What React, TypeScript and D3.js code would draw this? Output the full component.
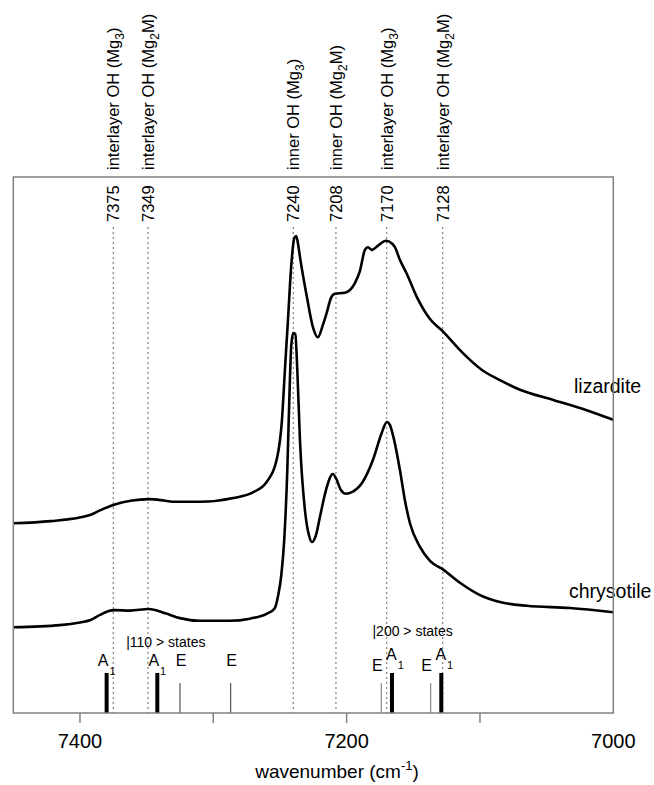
import React from 'react';
import * as d3 from 'd3';

// Spectra: [wavenumber (cm-1), intensity (arb. units)]
const lizardite: [number, number][] = [
  [7450, 35.4], [7422, 35.8], [7393, 36.9], [7385, 37.8], [7375, 38.8], [7362, 39.6], [7348, 39.9],
  [7336, 39.6], [7329, 39.4], [7310, 39.4], [7285, 40.1], [7270, 41.2], [7260, 43.1],
  [7252, 47.8], [7248.5, 54.7], [7246.3, 64.0], [7244, 73.3], [7241.5, 83.6],
  [7239.3, 88.6], [7237.8, 89.0], [7236.3, 87.3], [7235, 85.1], [7229.8, 77.6],
  [7225.3, 72.0], [7221.5, 70.1], [7217.8, 72.4], [7214.8, 74.8], [7211.8, 77.4],
  [7208.8, 78.2], [7201.3, 78.4], [7193.8, 80.2], [7190, 82.5], [7186.3, 86.4], [7184, 86.9],
  [7181, 86.4], [7176, 87.3], [7170.5, 88.1], [7166, 87.6], [7163.8, 86.9], [7160, 84.5],
  [7155, 82.0], [7147.3, 77.6], [7137.5, 73.5], [7127.8, 71.2], [7115, 67.7],
  [7098.5, 64.0], [7085, 62.1], [7070, 60.3], [7045, 58.4], [7020, 56.5], [7000, 54.7],
];

const chrysotile: [number, number][] = [
  [7450, 16.0], [7415, 16.4], [7400, 16.9], [7392.5, 17.3], [7385, 18.3], [7379, 19.0],
  [7374, 19.2], [7362.5, 19.1], [7348.3, 19.4], [7336, 18.6], [7325, 17.7], [7310, 17.2],
  [7288, 17.2], [7272.5, 17.6], [7260, 18.5], [7254, 19.5], [7251.3, 22.0], [7249, 25.7],
  [7246.8, 32.3], [7244.5, 45.3], [7243, 58.4], [7241.5, 68.7], [7240, 70.9], [7238.5, 70.7],
  [7237, 64.0], [7235, 50.9], [7231.3, 37.9], [7228.3, 33.2], [7226, 31.9], [7223, 33.2],
  [7220, 36.6], [7215.5, 41.6], [7210.3, 44.6], [7208, 43.8], [7204.3, 41.6], [7200.5, 40.9],
  [7196, 41.2], [7188.5, 42.9], [7180.3, 47.2], [7173.5, 52.4], [7169.8, 54.3], [7167.5, 53.7],
  [7165.3, 51.9], [7160, 45.3], [7156.3, 39.7], [7152.5, 35.4], [7145, 31.0],
  [7137.5, 28.4], [7127.8, 26.8], [7115, 24.3], [7100, 22.0], [7085, 20.7],
  [7064.8, 20.0], [7032.5, 19.6], [7000, 18.8],
];

// Assigned band positions and labels
const bandWn = [7375, 7349, 7240, 7208, 7170, 7128];
const bandLabelMain = ['interlayer OH (Mg', 'interlayer OH (Mg', 'inner OH (Mg', 'inner OH (Mg', 'interlayer OH (Mg', 'interlayer OH (Mg'];
const bandLabelSub = ['3', '2', '3', '2', '3', '2'];
const bandLabelEnd = [')', 'M)', ')', 'M)', ')', 'M)'];

// Calculated stick spectrum
const stickWn = [7380, 7342, 7325, 7287, 7174, 7166, 7137, 7129];
const stickType = ['A1', 'A1', 'E', 'E', 'E', 'A1', 'E', 'A1'];
const stickGroup = [0, 0, 0, 0, 1, 1, 1, 1];
const stickHeight = [1, 1, 0.75, 0.75, 0.75, 1, 0.75, 1];

const stateLabels = ['|110 > states', '|200 > states'];
const stateWn = [7335.6, 7150.5];

const tickValues = [7400, 7300, 7200, 7100, 7000];
const tickLabels = ['7400', '', '7200', '', '7000'];

const FONT = 'Liberation Sans, Arial, Helvetica, sans-serif';

export default function App() {
  const left = 13.3, right = 613.3, top = 177, bottom = 713;
  const x = d3.scaleLinear().domain([7450, 7000]).range([left, right]);
  const y = d3.scaleLinear().domain([0, 100]).range([bottom, top]);
  const stickY = d3.scaleLinear().domain([0, 1]).range([0, 40]);
  const line = d3.line<[number, number]>()
    .x(d => x(d[0]))
    .y(d => y(d[1]))
    .curve(d3.curveMonotoneX);

  return (
    <svg width={654} height={785} style={{ position: 'absolute', left: 0, top: 0, background: '#fff' }} fontFamily={FONT}>
      <rect x={0} y={0} width={654} height={785} fill="#fff" />
      {/* dotted band lines */}
      {bandWn.map((wn, i) => (
        <line key={'dl' + i} x1={x(wn)} x2={x(wn)} y1={227} y2={bottom}
          stroke="#8a8a8a" strokeWidth={1.3} strokeDasharray="2,3" />
      ))}
      {/* band numbers */}
      {bandWn.map((wn, i) => (
        <text key={'bn' + i} transform={`translate(${x(wn) + 6},222) rotate(-90)`} fontSize={16.5} fill="#000">
          {String(wn)}
        </text>
      ))}
      {/* band assignments above the frame */}
      {bandWn.map((wn, i) => (
        <text key={'bl' + i} transform={`translate(${x(wn) + 6},170) rotate(-90)`} fontSize={16.5} fill="#000">
          {bandLabelMain[i]}
          <tspan dy={5} fontSize={12}>{bandLabelSub[i]}</tspan>
          <tspan dy={-5}>{bandLabelEnd[i]}</tspan>
        </text>
      ))}
      {/* spectra */}
      <path d={line(lizardite) || ''} fill="none" stroke="#000" strokeWidth={2.6} strokeLinejoin="round" />
      <path d={line(chrysotile) || ''} fill="none" stroke="#000" strokeWidth={2.6} strokeLinejoin="round" />
      <text x={574} y={393} fontSize={19.5}>lizardite</text>
      <text x={569} y={598} fontSize={19.5}>chrysotile</text>
      {/* sticks */}
      {stickWn.map((wn, i) => {
        const thick = stickType[i] === 'A1';
        return (
          <line key={'st' + i} x1={x(wn)} x2={x(wn)} y1={bottom} y2={bottom - stickY(stickHeight[i])}
            stroke={thick ? '#000' : (stickGroup[i] === 0 ? '#555' : '#888')} strokeWidth={thick ? 4 : 1.2} />
        );
      })}
      {stickWn.map((wn, i) => {
        const g = stickGroup[i];
        if (stickType[i] === 'A1') {
          const by = g === 0 ? 666 : 660;
          const dx = g === 0 ? 0 : 3;
          return (
            <text key={'sl' + i} x={x(wn) + dx} y={by} fontSize={16} textAnchor="middle">
              A<tspan dx={1} dy={9} fontSize={11}>1</tspan>
            </text>
          );
        }
        const by = g === 0 ? 666 : 671;
        const dx = g === 0 ? 1 : -4;
        return (
          <text key={'sl' + i} x={x(wn) + dx} y={by} fontSize={16} textAnchor="middle">E</text>
        );
      })}
      {stateLabels.map((s, i) => (
        <text key={'sa' + i} x={x(stateWn[i])} y={i === 0 ? 647 : 636} fontSize={14} textAnchor="middle">{s}</text>
      ))}
      {/* frame */}
      <rect x={left} y={top} width={right - left} height={bottom - top} fill="none" stroke="#808080" strokeWidth={1.5} />
      {/* x axis ticks */}
      {tickValues.map((t, i) => (
        <g key={'tk' + i}>
          {t !== 7000 && <line x1={x(t)} x2={x(t)} y1={bottom} y2={bottom + 10} stroke="#808080" strokeWidth={1.5} />}
          {tickLabels[i] && (
            <text x={x(t)} y={748} fontSize={20} textAnchor="middle">{tickLabels[i]}</text>
          )}
        </g>
      ))}
      <text x={337} y={778} fontSize={19} textAnchor="middle">
        wavenumber (cm<tspan dy={-8} fontSize={13}>-1</tspan><tspan dy={8}>)</tspan>
      </text>
    </svg>
  );
}
